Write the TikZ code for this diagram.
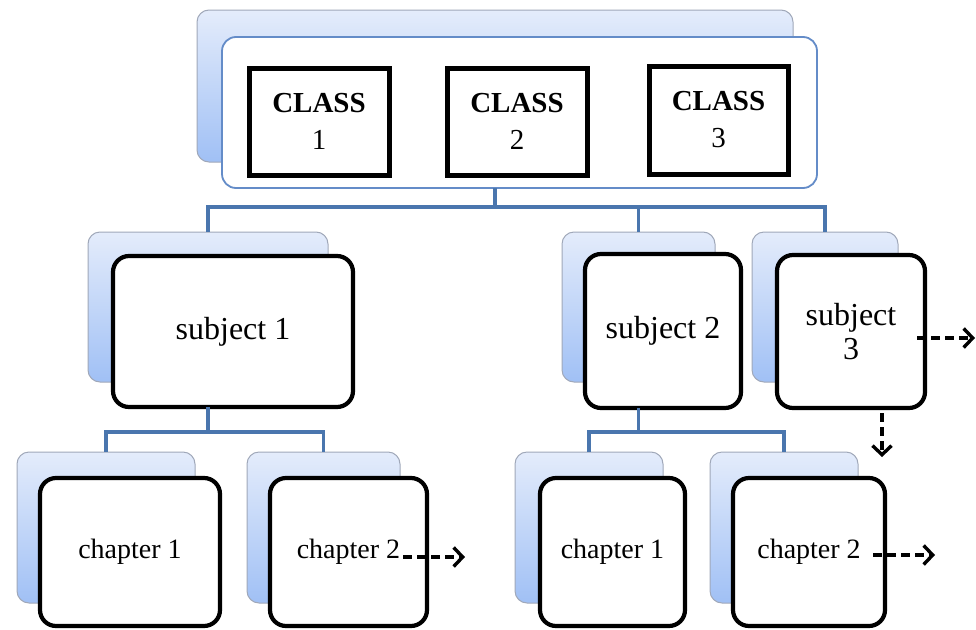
\documentclass[tikz,border=0pt]{standalone}
\usepackage{fontspec}
\setmainfont{Liberation Serif}
\usetikzlibrary{arrows.meta}

\definecolor{linkblue}{RGB}{74,118,174}
\definecolor{shadetop}{RGB}{228,236,251}
\definecolor{shadebot}{RGB}{160,192,245}
\definecolor{backedge}{RGB}{160,168,185}
\definecolor{frameblue}{RGB}{100,140,200}

\tikzset{
  box/.style={anchor=north west, inner sep=0pt, outer sep=0pt, align=center},
  backbox/.style={box, rounded corners=12pt, draw=backedge, line width=1pt,
    top color=shadetop, bottom color=shadebot},
  frontbox/.style={box, rounded corners=16pt, draw=black, line width=4.2pt, fill=white},
  framebox/.style={box, rounded corners=14pt, draw=frameblue, line width=1.8pt, fill=white},
  classbox/.style={box, draw=black, line width=5pt, fill=white,
    font=\fontsize{29}{37}\selectfont},
  subjfont/.style={font=\fontsize{32}{34}\selectfont},
  chapfont/.style={font=\fontsize{28}{32}\selectfont},
  link/.style={draw=linkblue, line width=3.6pt},
  flow/.style={draw=black, line width=3.4pt, dash pattern=on 9pt off 5pt,
    -{Straight Barb[length=9pt,width=19pt,line width=3.4pt]}}
}

\begin{document}
\begin{tikzpicture}[x=1pt,y=-1pt]
\useasboundingbox (0,0) rectangle (976,629);

% top level: the class group
\node[backbox, minimum width=596pt, minimum height=152pt] (topback) at (197,10) {};
\node[framebox, minimum width=595pt, minimum height=151pt] (topfront) at (222,37) {};
\node[classbox, minimum width=140pt, minimum height=107pt] (c1) at (249,68) {\textbf{CLASS}\\1};
\node[classbox, minimum width=140pt, minimum height=107pt] (c2) at (447,68) {\textbf{CLASS}\\2};
\node[classbox, minimum width=139pt, minimum height=108pt] (c3) at (649,66) {\textbf{CLASS}\\3};

% subjects
\node[backbox, minimum width=240pt, minimum height=150pt] (s1back) at (88,232) {};
\node[frontbox, subjfont, minimum width=240pt, minimum height=151pt] (s1) at (113,256) {subject 1};
\node[backbox, minimum width=153pt, minimum height=150pt] (s2back) at (562,232) {};
\node[frontbox, subjfont, minimum width=156pt, minimum height=154pt] (s2) at (585,254) {subject 2};
\node[backbox, minimum width=146pt, minimum height=150pt] (s3back) at (752,232) {};
\node[frontbox, subjfont, minimum width=148pt, minimum height=153pt] (s3) at (777,255) {subject\\3};

% chapters of subject 1
\node[backbox, minimum width=178pt, minimum height=151pt] (a1back) at (17,452) {};
\node[frontbox, chapfont, minimum width=180pt, minimum height=148pt] (a1) at (40,478) {chapter 1};
\node[backbox, minimum width=153pt, minimum height=151pt] (a2back) at (247,452) {};
\node[frontbox, chapfont, minimum width=157pt, minimum height=148pt] (a2) at (270,478) {chapter 2};

% chapters of subject 2
\node[backbox, minimum width=148pt, minimum height=151pt] (b1back) at (515,452) {};
\node[frontbox, chapfont, minimum width=145pt, minimum height=148pt] (b1) at (540,478) {chapter 1};
\node[backbox, minimum width=148pt, minimum height=151pt] (b2back) at (710,452) {};
\node[frontbox, chapfont, minimum width=152pt, minimum height=148pt] (b2) at (733,478) {chapter 2};

% tree links
\coordinate (bus0) at (0,207);
\coordinate (bus1) at (0,432);
\foreach \child in {s1back,s2back,s3back}
  \draw[link] (topback.south |- topfront.south) -- (topback.south |- bus0) -| (\child.north);
\foreach \child in {a1back,a2back}
  \draw[link] (s1back.south |- s1.south) -- (s1back.south |- bus1) -| (\child.north);
\foreach \child in {b1back,b2back}
  \draw[link] (s2back.south |- s2.south) -- (s2back.south |- bus1) -| (\child.north);

% continuation arrows
\coordinate (s3right) at (975,338);
\coordinate (s3down) at (882,457);
\coordinate (a2right) at (465,557);
\coordinate (b2right) at (935,555);
\draw[flow] ([xshift=-8pt]s3.east |- s3right) -- (s3right);
\draw[flow] (s3down |- s3.south) ++(0,5) -- (s3down);
\draw[flow] ([xshift=-24pt]a2.east |- a2right) -- (a2right);
\draw[flow] ([xshift=-12pt]b2.east |- b2right) -- (b2right);
\end{tikzpicture}
\end{document}
